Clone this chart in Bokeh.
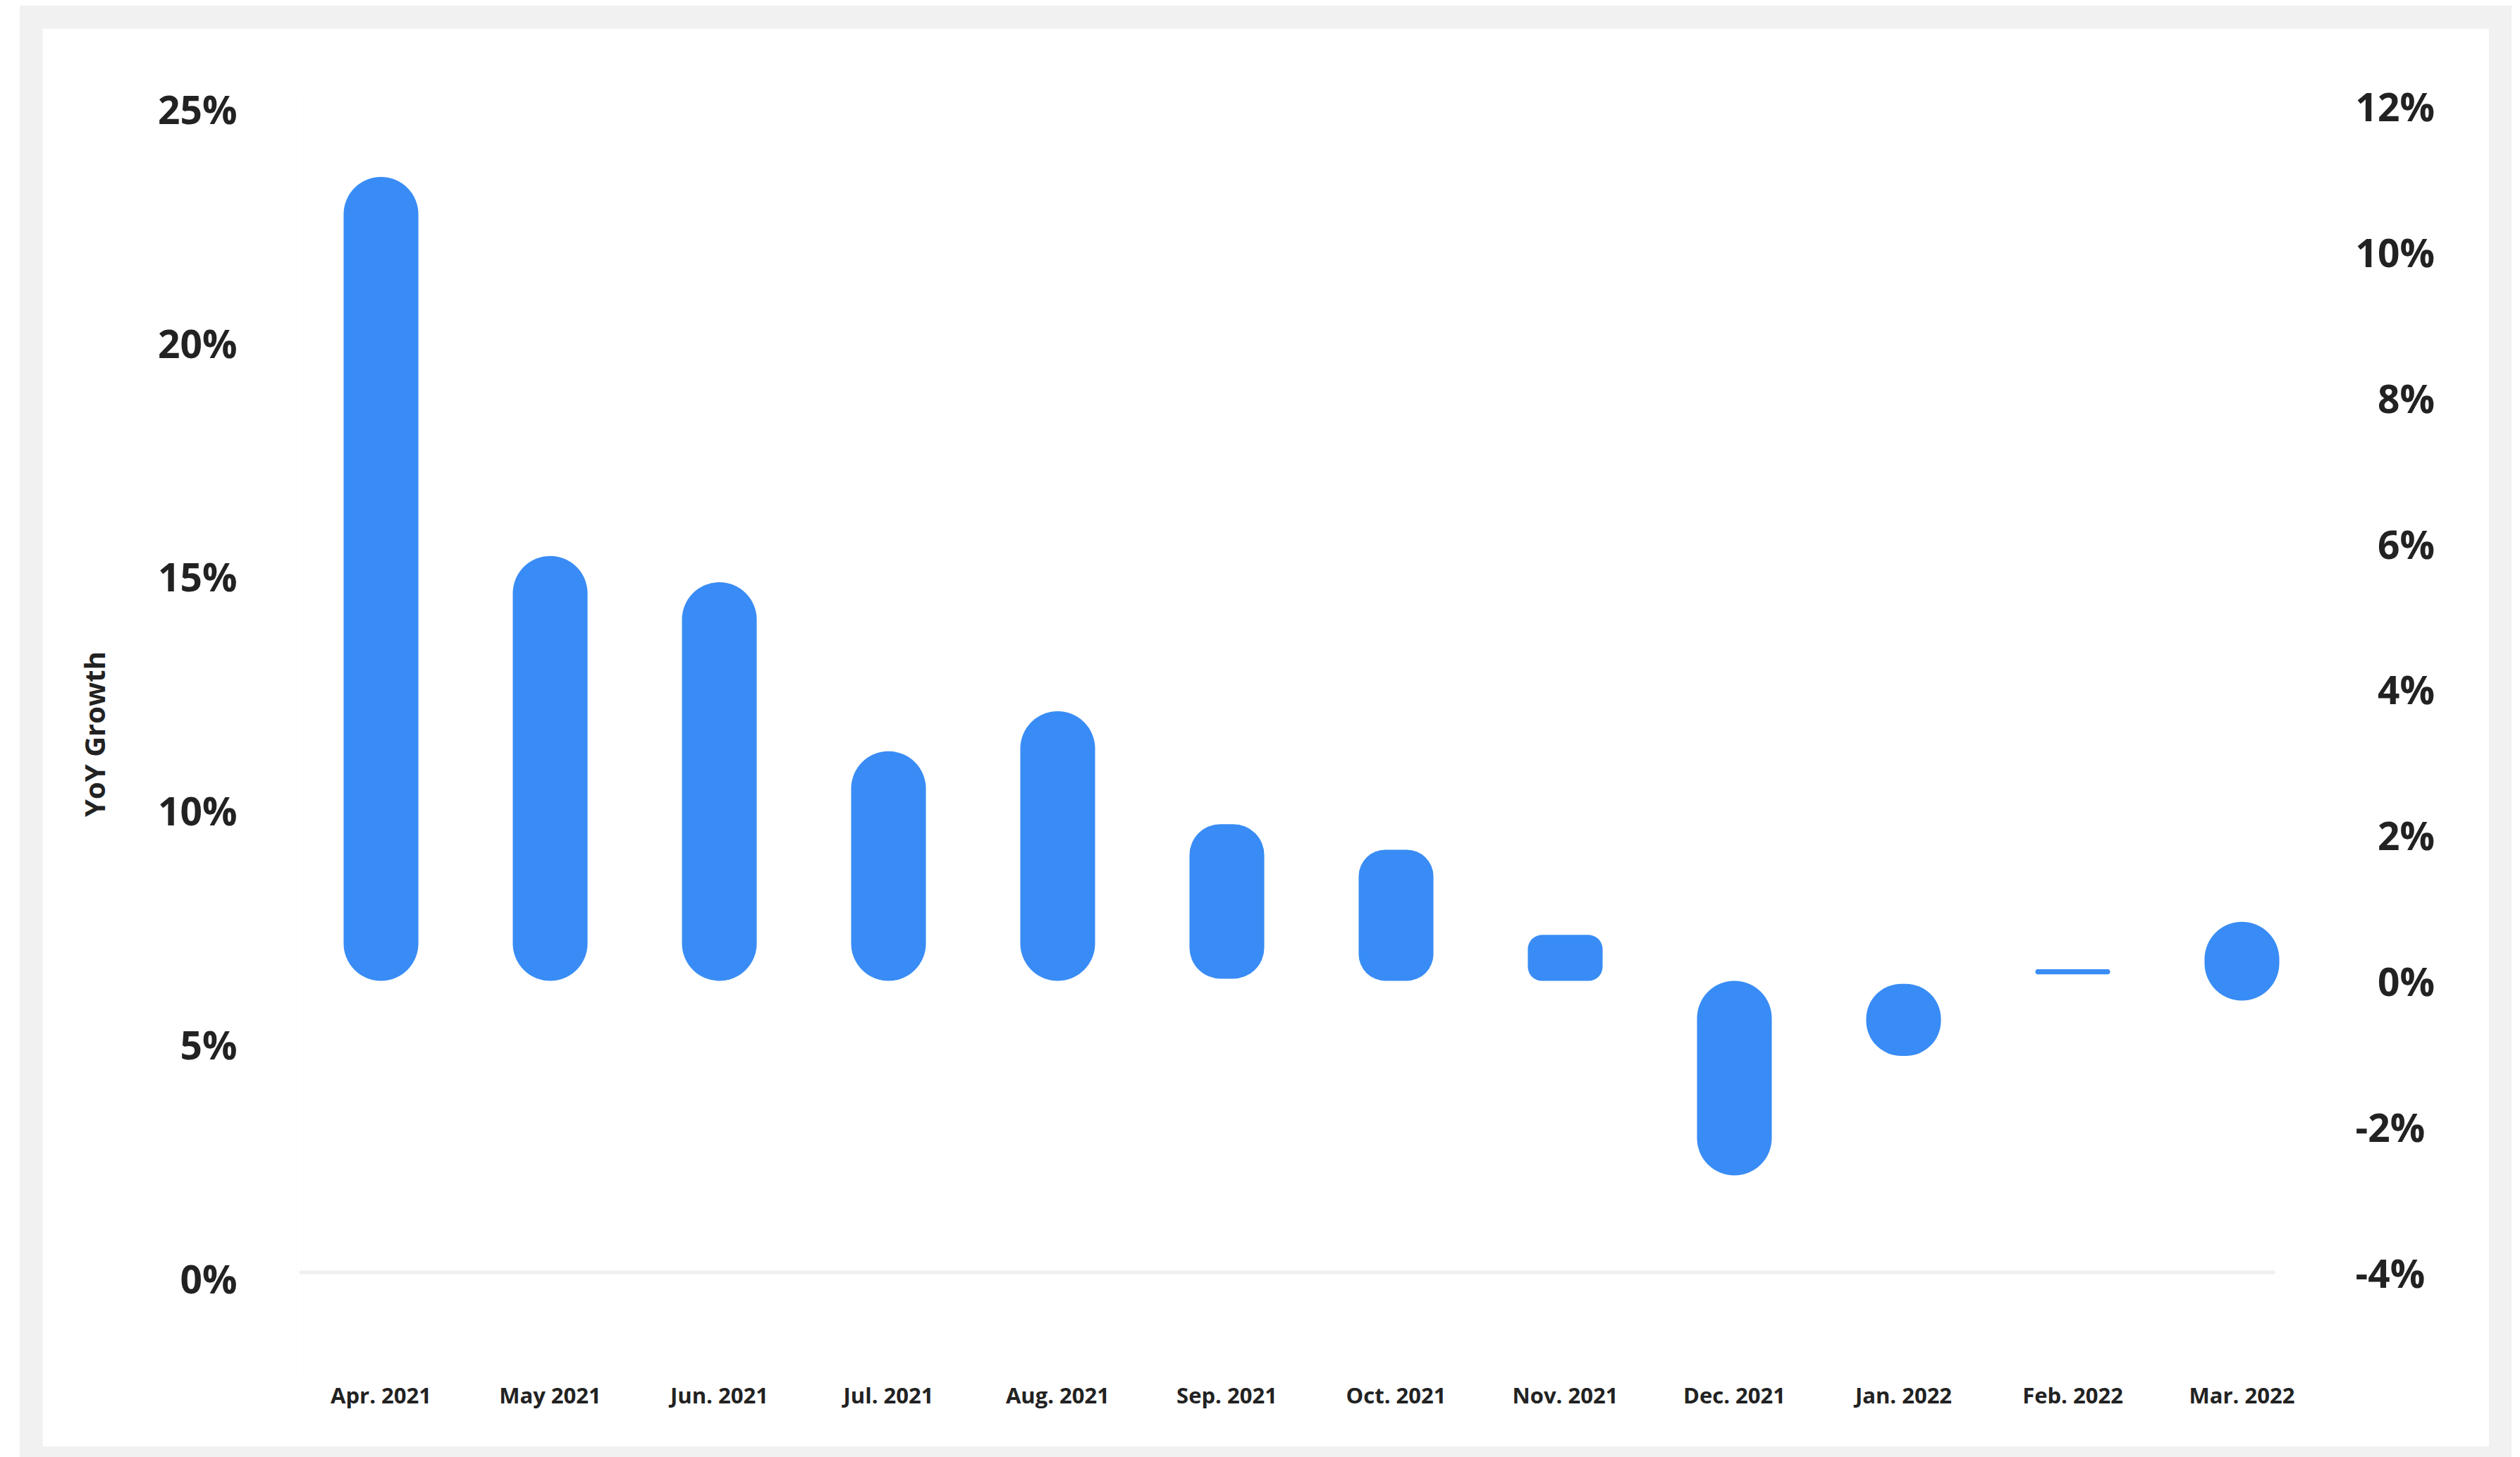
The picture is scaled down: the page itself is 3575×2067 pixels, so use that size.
from bokeh.plotting import figure
from bokeh.models import Range1d, LinearAxis, FixedTicker, PrintfTickFormatter, ColumnDataSource
from bokeh.layouts import column
from bokeh.embed import file_html
from bokeh.resources import INLINE

# Monthly categories and the year-over-year growth range of each bar (right axis, %)
months = ["Apr. 2021", "May 2021", "Jun. 2021", "Jul. 2021", "Aug. 2021", "Sep. 2021",
          "Oct. 2021", "Nov. 2021", "Dec. 2021", "Jan. 2022", "Feb. 2022", "Mar. 2022"]
growth_high = [11.03, 5.83, 5.47, 3.15, 3.70, 2.15, 1.80, 0.63, 0.00, -0.04, 0.16, 0.81]
growth_low = [0.00, 0.00, 0.00, 0.00, 0.00, 0.03, 0.00, 0.00, -2.67, -1.03, 0.09, -0.27]

left_ticks = [0, 5, 10, 15, 20, 25]
right_ticks = [-4, -2, 0, 2, 4, 6, 8, 10, 12]

# corner rounding of each bar, in screen pixels
corner_px = [53, 53, 53, 53, 53, 44, 38, 20, 53, 50, 4, 53]

BAR_COLOR = "#398cf5"
TEXT_COLOR = "#222222"
FONT = "Open Sans"
FIG_SPACE = "\u2007"

W, H = 3471, 2012

p = figure(
    width=W, height=H,
    x_range=Range1d(-0.5, 11.5),
    y_range=Range1d(-2.109, 25.373),
    output_backend="svg", toolbar_location=None,
    min_border_left=360, min_border_right=231,
    min_border_top=89, min_border_bottom=99,
)
p.extra_y_ranges = {"right": Range1d(-5.435, 12.205)}

p.background_fill_color = "white"
p.border_fill_color = "white"
p.outline_line_color = None
p.xgrid.visible = False
p.ygrid.visible = False

# baseline rule under the bars
p.segment(x0=[-0.483], x1=[11.196], y0=[-4], y1=[-4], y_range_name="right",
          line_color="#f0f0f0", line_width=5)

# rounded bars, grouped by corner radius
xs = list(range(len(months)))
for r in sorted(set(corner_px)):
    idx = [i for i, c in enumerate(corner_px) if c == r]
    src = ColumnDataSource(dict(
        x=[xs[i] for i in idx],
        top=[growth_high[i] for i in idx],
        bottom=[growth_low[i] for i in idx],
    ))
    p.vbar(x="x", top="top", bottom="bottom", width=0.442, source=src,
           y_range_name="right", fill_color=BAR_COLOR, line_color=None,
           border_radius=r)

def style_axis(ax, size):
    ax.axis_line_color = None
    ax.major_tick_line_color = None
    ax.minor_tick_line_color = None
    ax.major_tick_out = 0
    ax.major_tick_in = 0
    ax.minor_tick_out = 0
    ax.minor_tick_in = 0
    ax.major_label_text_font = FONT
    ax.major_label_text_font_style = "bold"
    ax.major_label_text_color = TEXT_COLOR
    ax.major_label_text_font_size = size

# x axis
xa = p.xaxis[0]
xa.ticker = FixedTicker(ticks=xs)
xa.major_label_overrides = {i: m for i, m in enumerate(months)}
style_axis(xa, "31px")
xa.major_label_standoff = 4

# left axis
ya = p.yaxis[0]
ya.ticker = FixedTicker(ticks=left_ticks)
ya.formatter = PrintfTickFormatter(format="%d%%")
style_axis(ya, "55px")
ya.major_label_standoff = 84
ya.axis_label = "YoY Growth"
ya.axis_label_text_font = FONT
ya.axis_label_text_font_style = "bold"
ya.axis_label_text_font_size = "40px"
ya.axis_label_text_color = TEXT_COLOR
ya.axis_label_standoff = 60

# right axis; single-digit labels padded so the column reads right-aligned
ra = LinearAxis(y_range_name="right", ticker=FixedTicker(ticks=right_ticks),
                formatter=PrintfTickFormatter(format="%d%%"))
ra.major_label_overrides = {t: (FIG_SPACE + f"{t}%") if 0 <= t < 10 else f"{t}%"
                            for t in right_ticks}
style_axis(ra, "55px")
ra.major_label_standoff = 41
p.add_layout(ra, "right")

page = column(p, styles={
    "background-color": "#f1f1f1",
    "padding": "32px 32px 15px 32px",
    "margin-left": "28px",
    "margin-top": "8px",
})

open("out.html", "w").write(file_html(page, INLINE))
